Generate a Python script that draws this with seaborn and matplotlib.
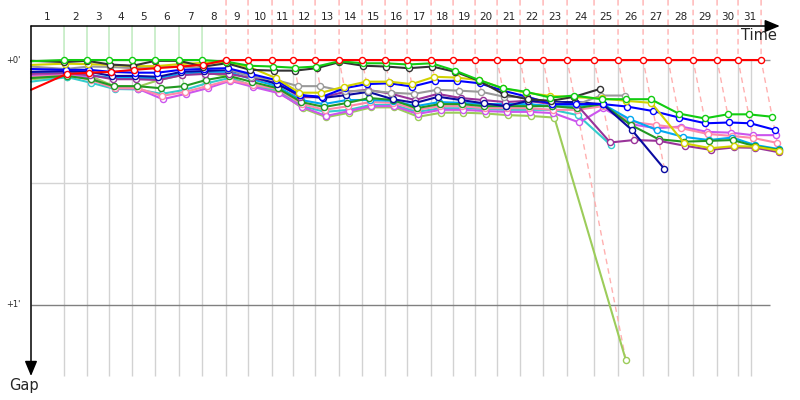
#%% load modules
import numpy as np
import pandas as pd
import matplotlib
matplotlib.use('Agg')
import matplotlib.pyplot as plt
import seaborn as sns

#%% data
# leader lap times in seconds (lap 1 includes the start)
lap_times = [41.3, 28.7, 27.5, 28.8, 28.7, 30.0, 28.8, 30.0, 27.5, 30.0,
             26.3, 27.5, 30.0, 28.7, 28.8, 27.5, 30.0, 27.5, 27.5, 27.5,
             28.7, 28.8, 30.0, 33.7, 30.0, 31.3, 31.2, 31.3, 30.0, 26.2, 28.8]
race_duration = 900  # seconds, last grid line
lap_labels = [str(i) for i in range(1, len(lap_times) + 1)]

# gap to leader in seconds, index 0 = start, then end of each lap
gap_red = [7.3, 3.4, 3.1, 2.9, 2.4, 2.0, 1.6, 1.2] + [0.0] * 24
gap_green = [0.3, 0, 0, 0, 0, 0, 0, 0, 0.4, 1.4, 1.6, 1.9, 1.6, 0.3, 0.8, 0.8,
             1.1, 0.8, 2.6, 4.9, 6.9, 7.8, 9.2, 8.7, 9.6, 9.6, 9.6, 13.1, 14.3,
             13.3, 13.3, 13.9]
gap_black = [0.2, 0.5, 0.2, 1.1, 1.4, 0.2, 0.2, 1.6, 0.8, 2.4, 2.6, 2.6, 2.0,
             0.5, 1.4, 1.6, 2.0, 1.6, 2.9, 5.1, 8.4, 9.6, 10.0, 9.0, 7.1]
gap_yellow = [1.2, 0.9, 1.0, 1.2, 1.5, 1.5, 1.0, 0.7, 0.6, 1.7, 4.4, 8.0, 8.0,
              6.5, 5.3, 5.3, 5.9, 4.1, 4.3, 4.9, 6.9, 8.0, 8.8, 9.1, 9.4, 10.0,
              10.5, 20.4, 21.6, 21.1, 21.2, 22.2]
gap_gray = [1.6, 2.2, 1.6, 1.7, 2.0, 1.7, 1.6, 2.0, 2.2, 4.1, 4.9, 6.4, 6.4,
            7.7, 7.5, 8.0, 8.3, 7.3, 7.5, 7.8, 9.0, 9.1, 10.5, 11.0, 8.7, 8.7]
gap_blue = [2.2, 2.4, 2.4, 2.9, 3.1, 3.1, 2.4, 2.2, 2.0, 3.4, 4.9, 8.6, 9.0,
            6.9, 5.9, 5.7, 6.5, 5.1, 5.1, 5.7, 7.5, 9.0, 10.8, 10.8, 10.8, 11.4,
            12.5, 14.1, 15.5, 15.3, 15.5, 17.1]
gap_navy = [2.9, 2.7, 2.9, 3.9, 3.9, 4.1, 2.9, 2.7, 2.4, 3.9, 5.9, 8.6, 9.3,
            8.6, 7.8, 9.6, 10.5, 9.0, 9.8, 10.6, 11.3, 10.0, 10.3, 10.3, 10.8,
            17.1, 26.7]
gap_purple = [3.4, 3.2, 3.7, 4.7, 4.7, 4.9, 3.7, 3.4, 3.4, 4.4, 5.6, 9.1, 9.1,
              7.8, 7.3, 8.3, 9.8, 8.3, 9.3, 9.8, 10.3, 10.0, 10.8, 10.6, 20.2,
              19.6, 19.8, 21.0, 22.0, 21.4, 21.5, 22.6]
gap_violet = [3.9, 3.4, 4.4, 6.9, 7.0, 9.6, 8.3, 6.9, 5.1, 6.6, 8.1, 11.5, 13.7,
              12.5, 11.3, 11.3, 13.2, 12.2, 12.2, 12.5, 12.7, 12.7, 13.0, 15.3,
              11.8, 15.7, 16.7, 16.3, 17.6, 17.8, 18.4, 18.4]
gap_pink = [4.2, 3.7, 4.9, 6.9, 6.9, 8.8, 7.8, 6.4, 4.9, 6.1, 7.1, 10.8, 12.2,
            11.3, 10.3, 10.5, 12.2, 11.3, 11.3, 11.8, 11.8, 11.8, 12.2, 12.2,
            11.3, 15.1, 15.9, 16.7, 18.1, 18.6, 19.1, 20.3]
gap_lightblue = [3.2, 2.9, 3.7, 4.4, 4.4, 4.4, 3.4, 2.9, 2.9, 4.7, 6.4, 9.8,
                 10.8, 9.8, 9.8, 10.0, 11.3, 10.3, 10.5, 10.8, 10.8, 10.8, 11.3,
                 11.3, 10.8, 14.5, 17.1, 18.8, 19.6, 19.0, 20.8, 21.8]
gap_darkgreen = [4.4, 3.9, 4.7, 6.4, 6.4, 6.9, 6.4, 4.9, 3.9, 5.4, 6.9, 10.3,
                 11.5, 10.5, 9.3, 9.8, 11.8, 10.8, 10.8, 11.3, 11.3, 11.3, 11.3,
                 11.8, 10.8, 15.9, 19.4, 20.0, 19.8, 19.6, 21.1, 22.0]
gap_cyan = [5.3, 4.2, 5.6, 7.1, 7.2, 8.3, 7.3, 5.7, 4.4, 6.4, 7.3, 11.3, 12.7,
            12.2, 11.0, 11.0, 12.7, 11.8, 11.8, 12.0, 12.2, 12.2, 12.2, 13.5, 20.8]
gap_lightgreen = [4.7, 4.1, 3.9, 6.4, 6.6, 4.9, 3.7, 2.9, 4.2, 6.4, 7.8, 11.8,
                  14.0, 12.9, 11.6, 11.6, 13.9, 12.9, 12.9, 13.1, 13.5, 13.7,
                  14.1, 73.5]

gaps = {'lightgreen': gap_lightgreen, 'cyan': gap_cyan, 'violet': gap_violet,
        'pink': gap_pink, 'lightblue': gap_lightblue, 'darkgreen': gap_darkgreen,
        'purple': gap_purple, 'navy': gap_navy, 'gray': gap_gray,
        'blue': gap_blue, 'yellow': gap_yellow, 'black': gap_black,
        'green': gap_green, 'red': gap_red}

car_colors = {'red': '#ff0000', 'green': '#11cc11', 'black': '#333333',
              'yellow': '#d2d200', 'gray': '#9a9a9a', 'blue': '#0000ff',
              'navy': '#0a0aa0', 'purple': '#993399', 'violet': '#cc55ee',
              'pink': '#ff88aa', 'lightblue': '#00a8f0', 'darkgreen': '#229922',
              'cyan': '#33cccc', 'lightgreen': '#9ccc5a'}
lap_line_colors = {'red': '#ffb0b0', 'green': '#b8e8b8'}

#%% build table
cum = np.cumsum(lap_times)
rows = []
for car, g in gaps.items():
    for lap, v in enumerate(g):
        t = 0.0 if lap == 0 else cum[lap - 1] + v
        rows.append((car, lap, v, t))
df = pd.DataFrame(rows, columns=['car', 'lap', 'gap', 'time'])

#%% make graph
sns.set_style('white')
plt.rcParams['font.family'] = ['DejaVu Sans']

fig = plt.figure(figsize=(8, 4), dpi=100)
ax = fig.add_axes([0, 0, 1, 1])

sns.lineplot(data=df, x='time', y='gap', hue='car', hue_order=list(gaps.keys()),
             palette=car_colors, estimator=None, sort=True, legend=False, ax=ax,
             linewidth=1.5, marker='o', markersize=4.4, markerfacecolor='white',
             markeredgewidth=1.0, markevery=slice(1, None), zorder=3)
for ln in ax.lines:
    ln.set_markeredgecolor(ln.get_color())

y_top, y_bot = -8.33, 77.4
t_end = 924

# grid
ax.vlines(list(cum[:-1]) + [race_duration], 0, y_bot, color='#d2d2d2', lw=1, zorder=0)
ax.hlines([0, 30, 60], 0, t_end, colors=['#999999', '#d4d4d4', '#808080'], lw=1, zorder=0.5)

# lap lines (leader colour)
played = df[df.lap > 0]
for lap in range(1, len(lap_times) + 1):
    sub = played[played.lap == lap]
    leader = sub.loc[sub.gap.idxmin(), 'car']
    gmax = sub.gap.max()
    t = cum[lap - 1]
    if leader == 'red':
        ax.plot([t, t, t + gmax], [-14.7, 0, gmax], color=lap_line_colors['red'],
                ls=(0, (4, 3)), lw=1, zorder=1)
    else:
        ax.plot([t, t, t + gmax], [y_top, 0, gmax], color=lap_line_colors['green'],
                lw=1, zorder=1)

# axes arrows
ax.annotate('', xy=(936, y_top), xytext=(0, y_top),
            arrowprops=dict(arrowstyle='-|>,head_length=0.6,head_width=0.25',
                            color='black', lw=1.1, mutation_scale=15,
                            shrinkA=0, shrinkB=0), zorder=5)
ax.annotate('', xy=(0, y_bot), xytext=(0, y_top),
            arrowprops=dict(arrowstyle='-|>,head_length=0.6,head_width=0.25',
                            color='black', lw=1.1, mutation_scale=15,
                            shrinkA=0, shrinkB=0), zorder=5)

# lap numbers
starts = np.concatenate([[0], cum[:-1]])
for lbl, a, b in zip(lap_labels, starts, cum):
    ax.text((a + b) / 2, -10.6, lbl, ha='center', va='center', fontsize=7.5)

ax.text(932, -6.1, 'Time', ha='right', va='center', fontsize=10.5)
ax.text(-8.5, 79.7, 'Gap', ha='center', va='center', fontsize=10.5)
ax.text(-12.5, 0, "+0'", ha='right', va='center', fontsize=6)
ax.text(-12.5, 60, "+1'", ha='right', va='center', fontsize=6)

ax.set_xlim(-38.75, 961.25)
ax.set_ylim(83.27, -14.7)
ax.axis('off')

plt.savefig('out.png', dpi=100)
